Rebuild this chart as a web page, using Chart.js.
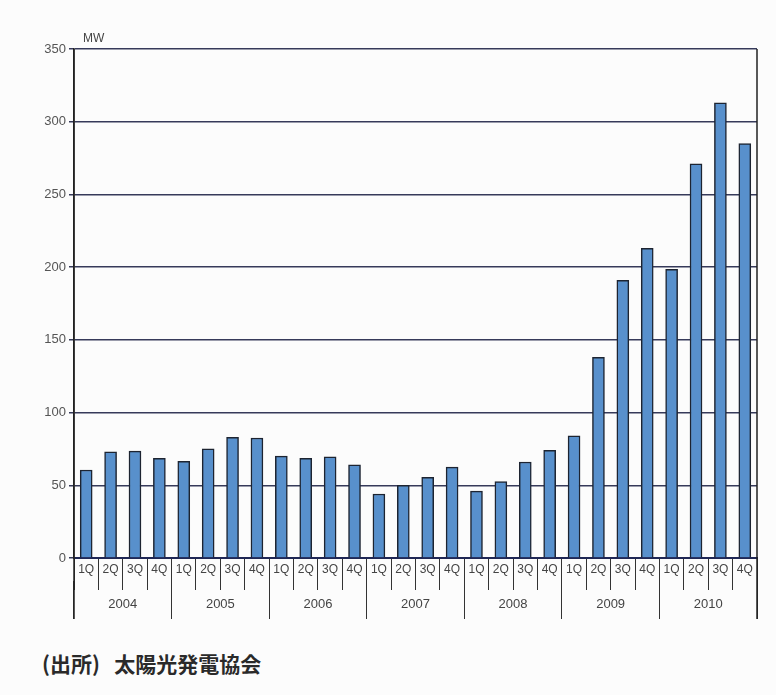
<!DOCTYPE html>
<html>
<head>
<meta charset="utf-8">
<script src="https://cdn.jsdelivr.net/npm/chart.js@4"></script>
<style>
  body { margin:0; background:#fcfcfc; }
  #wrap { position:relative; width:776px; height:640px; }
  #source {
    position:absolute; left:42px; top:648px;
    font-family:"Noto Sans CJK JP", sans-serif; font-size:21px; font-weight:bold; color:#2a2a2a;
  }
</style>
</head>
<body>
<div id="wrap"><canvas id="chart"></canvas></div>
<div id="source">(出所)&nbsp;&nbsp;&nbsp;太陽光発電協会</div>
<script>
// data
const years = ['2004','2005','2006','2007','2008','2009','2010'];
const quarters = ['1Q','2Q','3Q','4Q'];
const shipments = [
  60.5, 73, 73.5, 68.5,
  66.5, 75, 83, 82.5,
  70, 68.5, 69.5, 64,
  44, 50, 55.5, 62.5,
  46, 52.5, 66, 74,
  84, 138, 191, 213,
  198.5, 271, 313, 285
];
const yTicks = [0, 50, 100, 150, 200, 250, 300, 350];

const labels = [];
years.forEach(y => quarters.forEach(q => labels.push(q)));

const font = 'Liberation Sans, Arial, sans-serif';

// "MW" unit label and the two outer edge lines running down through the label rows
const frame = {
  id:'frame',
  afterDraw(chart){
    const c = chart.ctx, a = chart.chartArea;
    const bottom = chart.scales.x2.top + 38;
    c.save();
    c.font = '12px ' + font;
    c.fillStyle = '#444';
    c.textBaseline = 'middle';
    c.fillText('MW', a.left + 9, a.top - 10);
    c.strokeStyle = '#222';
    c.lineWidth = 1.5;
    c.beginPath();
    c.moveTo(a.left, a.top); c.lineTo(a.left, bottom);
    c.moveTo(a.right, a.top); c.lineTo(a.right, bottom);
    c.stroke();
    c.restore();
  }
};

const ctx = document.getElementById('chart');
new Chart(ctx, {
  type:'bar',
  data:{
    labels: labels,
    datasets:[{
      data: shipments,
      backgroundColor:'#5890cc',
      borderColor:'#1d2431',
      borderWidth:1.5,
      barThickness:12
    }]
  },
  options:{
    responsive:true,
    maintainAspectRatio:false,
    animation:false,
    layout:{padding:{left:30, right:19, top:49, bottom:14}},
    plugins:{legend:{display:false}, tooltip:{enabled:false}},
    scales:{
      x:{
        type:'category',
        offset:true,
        grid:{offset:true, drawOnChartArea:false, color:'#333', lineWidth:1, tickLength:32},
        border:{color:'#1f2755', width:2},
        ticks:{autoSkip:false, maxRotation:0, padding:-28, color:'#444', font:{family:font, size:12}},
        afterFit(s){ s.height = 23; }
      },
      x2:{
        type:'category',
        position:'bottom',
        labels: years,
        offset:true,
        grid:{offset:true, drawOnChartArea:false, color:'#333', lineWidth:1, tickLength:38},
        border:{display:false},
        ticks:{autoSkip:false, maxRotation:0, padding:-22, color:'#444', font:{family:font, size:13}},
        afterFit(s){ s.height = 45; }
      },
      y:{
        min:0, max:350,
        afterBuildTicks(s){ s.ticks = yTicks.map(v => ({value:v})); },
        grid:{color:'#363a5a', lineWidth:1.5, tickLength:5},
        border:{color:'#222', width:1.5},
        ticks:{padding:3, color:'#555', font:{family:font, size:13}},
        afterFit(s){ s.width = 44; }
      }
    }
  },
  plugins:[frame]
});
</script>
</body>
</html>
